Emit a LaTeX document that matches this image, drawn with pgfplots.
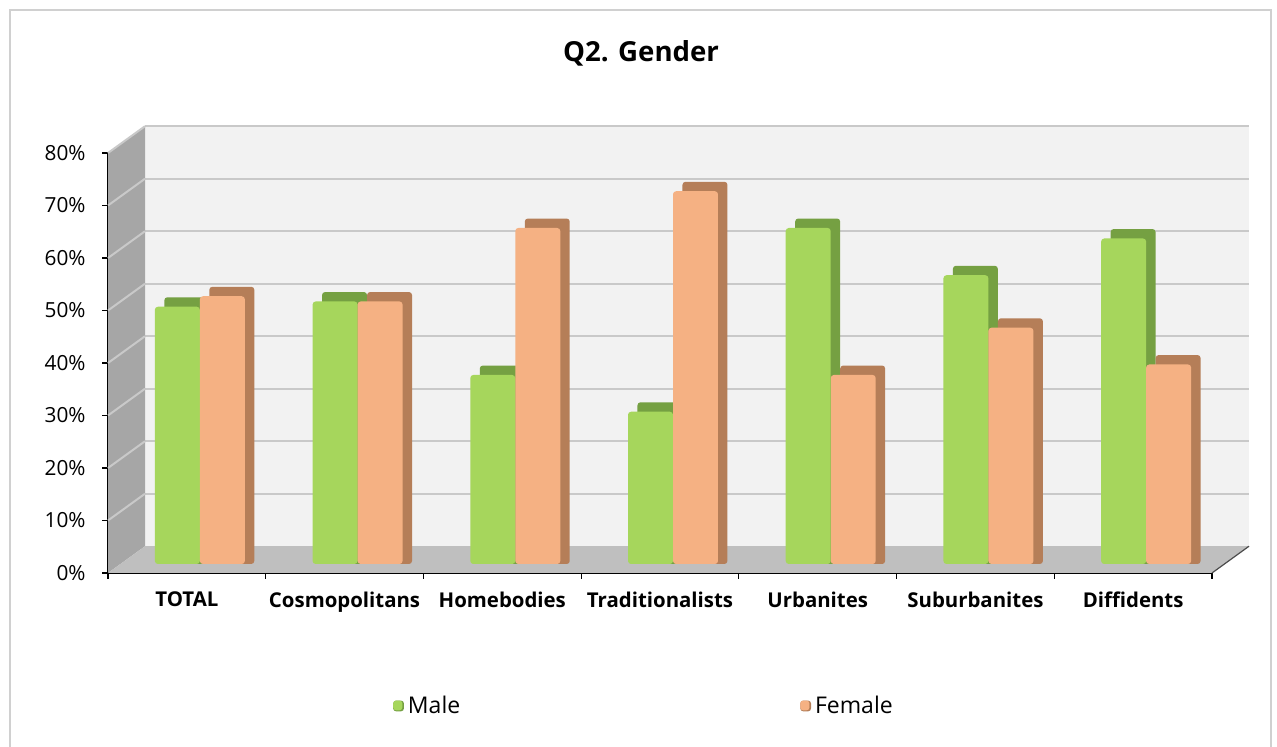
\documentclass[border=0pt]{standalone}
\usepackage{pgfplots}
\pgfplotsset{compat=1.18}
\usepackage{pgfplotstable}
\usepackage{fontspec}
\setmainfont{Open Sans}
\definecolor{malefront}{HTML}{A6D65C}
\definecolor{maleside}{HTML}{75A042}
\definecolor{femfront}{HTML}{F5B183}
\definecolor{femside}{HTML}{B57E58}
\definecolor{wall}{HTML}{F2F2F2}
\definecolor{sidewall}{HTML}{A6A6A6}
\definecolor{floorc}{HTML}{BFBFBF}
\definecolor{gridc}{HTML}{C9C9C9}
\definecolor{framec}{HTML}{D0D0D0}

\pgfplotstableread{
x male female
0.5 49 51
1.5 50 50
2.5 36 64
3.5 29 71
4.5 64 36
5.5 55 45
6.5 62 38
}\gendertable

\begin{document}
\begin{tikzpicture}
\useasboundingbox (0,0) rectangle (638.5pt,373.5pt);
\fill[white] (0,0) rectangle (638.5pt,373.5pt);
\draw[framec, line width=0.8pt] (5pt,-10pt) rectangle (635.5pt,368.5pt);
\node[font=\bfseries\fontsize{13.8}{16}\selectfont] at (320.5pt,347pt) {Q2. Gender};

% front frame with walls
\begin{axis}[
  at={(54pt,87pt)}, anchor=south west, scale only axis,
  width=552pt, height=210pt,
  xmin=0, xmax=7, ymin=0, ymax=80, clip=false,
  axis x line*=bottom, axis y line*=left,
  axis line style={-, black, line width=0.8pt},
  ytick={0,10,...,80},
  yticklabel={\pgfmathprintnumber{\tick}\%},
  /pgf/number format/assume math mode=true,
  yticklabel style={font=\fontsize{10.4}{12}\selectfont, inner sep=2pt, xshift=-6pt},
  xtick={0,...,7}, xticklabels={},
  extra x ticks={0.5,1.5,2.5,3.5,4.5,5.5,6.5},
  extra x tick labels={TOTAL,Cosmopolitans,Homebodies,Traditionalists,Urbanites,Suburbanites,Diffidents},
  extra x tick style={major tick length=0pt, ticklabel style={font=\bfseries\fontsize{10.2}{12}\selectfont, yshift=-6pt}},
  tick align=outside, major tick length=3pt,
  tick style={black, line width=0.6pt},
]
\fill[wall] (axis cs:0.2346,5.1) rectangle (axis cs:7.2346,85.1);
\draw[gridc, line width=1.2pt] (axis cs:0.2346,15.1) -- (axis cs:7.2346,15.1);
\draw[gridc, line width=1.2pt] (axis cs:0.2346,25.1) -- (axis cs:7.2346,25.1);
\draw[gridc, line width=1.2pt] (axis cs:0.2346,35.1) -- (axis cs:7.2346,35.1);
\draw[gridc, line width=1.2pt] (axis cs:0.2346,45.1) -- (axis cs:7.2346,45.1);
\draw[gridc, line width=1.2pt] (axis cs:0.2346,55.1) -- (axis cs:7.2346,55.1);
\draw[gridc, line width=1.2pt] (axis cs:0.2346,65.1) -- (axis cs:7.2346,65.1);
\draw[gridc, line width=1.2pt] (axis cs:0.2346,75.1) -- (axis cs:7.2346,75.1);
\draw[gridc, line width=1.2pt] (axis cs:0.2346,85.1) -- (axis cs:7.2346,85.1);
\fill[sidewall] (axis cs:0,0) -- (axis cs:0,80) -- (axis cs:0.2346,85.1) -- (axis cs:0.2346,5.1) -- cycle;
\draw[gridc, line width=1pt] (axis cs:0,10) -- (axis cs:0.2346,15.1);
\draw[gridc, line width=1pt] (axis cs:0,20) -- (axis cs:0.2346,25.1);
\draw[gridc, line width=1pt] (axis cs:0,30) -- (axis cs:0.2346,35.1);
\draw[gridc, line width=1pt] (axis cs:0,40) -- (axis cs:0.2346,45.1);
\draw[gridc, line width=1pt] (axis cs:0,50) -- (axis cs:0.2346,55.1);
\draw[gridc, line width=1pt] (axis cs:0,60) -- (axis cs:0.2346,65.1);
\draw[gridc, line width=1pt] (axis cs:0,70) -- (axis cs:0.2346,75.1);
\draw[gridc, line width=1pt] (axis cs:0,80) -- (axis cs:0.2346,85.1);
\fill[floorc] (axis cs:0,0) -- (axis cs:7,0) -- (axis cs:7.2346,5.1) -- (axis cs:0.2346,5.1) -- cycle;
\draw[black!70, line width=0.6pt] (axis cs:7,0) -- (axis cs:7.2346,5.1);
\end{axis}

% bars
\begin{axis}[
  at={(60.5pt,91.5pt)}, anchor=south west, scale only axis,
  width=552pt, height=210pt,
  xmin=0, xmax=7, ymin=0, ymax=80, clip=false, hide axis,
  ybar, bar width=0.285,
  legend columns=2,
  legend style={draw=none, fill=none, at={(0.4746,-0.338)}, anchor=center,
    font=\fontsize{11.5}{13}\selectfont,
    /tikz/every even column/.append style={column sep=168pt}},
]
\addplot[fill=maleside, draw=none, bar shift=-0.0827, forget plot, rounded corners=1.5pt]
  table[x=x, y expr=\thisrow{male}+1.8]{\gendertable};
\addplot[fill=malefront, draw=none, bar shift=-0.1427, rounded corners=1.5pt,
  legend image code/.code={\fill[maleside] (0pt,-2.7pt) rectangle (5.4pt,2.7pt); \fill[malefront] (0pt,-2.2pt) rectangle (4.6pt,2.7pt);}]
  table[x=x, y=male]{\gendertable};
\addlegendentry{Male}
\addplot[fill=femside, draw=none, bar shift=0.2027, forget plot, rounded corners=1.5pt]
  table[x=x, y expr=\thisrow{female}+1.8]{\gendertable};
\addplot[fill=femfront, draw=none, bar shift=0.1427, rounded corners=1.5pt,
  legend image code/.code={\fill[femside] (0pt,-2.7pt) rectangle (5.4pt,2.7pt); \fill[femfront] (0pt,-2.2pt) rectangle (4.6pt,2.7pt);}]
  table[x=x, y=female]{\gendertable};
\addlegendentry{Female}
\end{axis}
\end{tikzpicture}
\end{document}
